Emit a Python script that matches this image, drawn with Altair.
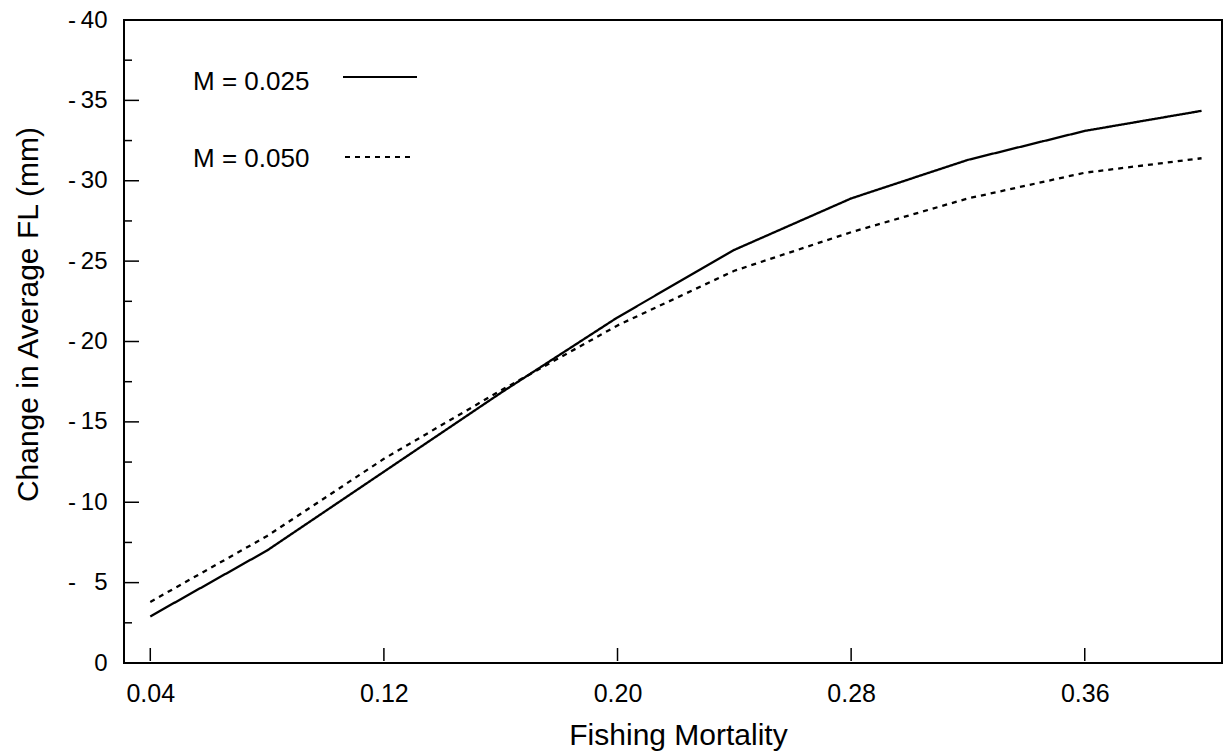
import altair as alt
import pandas as pd

# ---- data ----
fishing_mortality = [0.04, 0.08, 0.12, 0.16, 0.20, 0.24, 0.28, 0.32, 0.36, 0.40]
m_025 = [-2.9, -7.0, -11.9, -16.8, -21.5, -25.7, -28.9, -31.3, -33.1, -34.35]
m_050 = [-3.8, -7.9, -12.7, -16.95, -21.0, -24.4, -26.8, -28.9, -30.5, -31.4]
series_names = ["M = 0.025", "M = 0.050"]

x_tick_values = [0.04, 0.12, 0.20, 0.28, 0.36]
y_label_values = [-40, -35, -30, -25, -20, -15, -10, -5, 0]
y_major_ticks = [-35, -30, -25, -20, -15, -10, -5]
y_minor_ticks = [-37.5, -32.5, -27.5, -22.5, -17.5, -12.5, -7.5, -2.5]

rows = []
for name, vals in zip(series_names, [m_025, m_050]):
    for f, v in zip(fishing_mortality, vals):
        rows.append({"F": f, "change": v, "series": name})
df = pd.DataFrame(rows)

FONT = "Liberation Sans"
W, H = 1098, 643

x_scale = alt.Scale(domain=[0.031, 0.407], nice=False, zero=False)
y_scale = alt.Scale(domain=[-40, 0], reverse=True, nice=False, zero=False)

x_axis = alt.Axis(values=x_tick_values, format=".2f", title="Fishing Mortality",
                  ticks=False, domain=False, grid=False,
                  labelFont=FONT, labelFontSize=25, labelColor="black",
                  labelPadding=18,
                  titleFont=FONT, titleFontSize=30, titleFontWeight="normal",
                  titleColor="black", titleX=554, titleY=81,
                  titleBaseline="alphabetic", titleAlign="center")
y_axis = alt.Axis(values=y_label_values, title="Change in Average FL (mm)",
                  labelExpr="datum.value == 0 ? '0' : (datum.value > -10 ? '-\u2009\u2007' + format(-datum.value, 'd') : '-\u2009' + format(-datum.value, 'd'))",
                  ticks=False, domain=False, grid=False,
                  labelFont=FONT, labelFontSize=24, labelColor="black",
                  labelPadding=17,
                  titleFont=FONT, titleFontSize=30, titleFontWeight="normal",
                  titleColor="black", titleX=-87, titleY=294,
                  titleBaseline="alphabetic", titleAlign="center", titleAngle=-90)

lines = alt.Chart(df).mark_line(color="black", strokeWidth=2.3).encode(
    x=alt.X("F:Q", scale=x_scale, axis=x_axis),
    y=alt.Y("change:Q", scale=y_scale, axis=y_axis),
    strokeDash=alt.StrokeDash(
        "series:N",
        scale=alt.Scale(domain=series_names, range=[[1, 0], [5, 5]]),
        legend=None,
    ),
)

ymaj = alt.Chart(pd.DataFrame({"v": y_major_ticks})).mark_rule(color="black", strokeWidth=1.5).encode(
    y=alt.Y("v:Q", scale=y_scale, axis=y_axis),
    x=alt.value(0), x2=alt.value(15),
)
ymin = alt.Chart(pd.DataFrame({"v": y_minor_ticks})).mark_rule(color="black", strokeWidth=1.5).encode(
    y=alt.Y("v:Q", scale=y_scale, axis=y_axis),
    x=alt.value(0), x2=alt.value(8),
)
xt = alt.Chart(pd.DataFrame({"f": x_tick_values})).mark_rule(color="black", strokeWidth=1.5).encode(
    x=alt.X("f:Q", scale=x_scale, axis=x_axis),
    y=alt.value(H - 2), y2=alt.value(H - 15),
)

# legend (label on the left, line sample on the right, as in the reference)
leg_text_1 = alt.Chart(pd.DataFrame({"series": [series_names[0]]})).mark_text(
    font=FONT, fontSize=26, align="left", baseline="alphabetic", color="black"
).encode(text="series:N", x=alt.value(69), y=alt.value(70))
leg_text_2 = alt.Chart(pd.DataFrame({"series": [series_names[1]]})).mark_text(
    font=FONT, fontSize=26, align="left", baseline="alphabetic", color="black"
).encode(text="series:N", x=alt.value(69), y=alt.value(147))
leg_line_1 = alt.Chart(pd.DataFrame({"series": [series_names[0]]})).mark_rule(
    color="black", strokeWidth=2
).encode(x=alt.value(219), x2=alt.value(293), y=alt.value(57))
leg_line_2 = alt.Chart(pd.DataFrame({"series": [series_names[1]]})).mark_rule(
    color="black", strokeWidth=2, strokeDash=[5, 5]
).encode(x=alt.value(221), x2=alt.value(289), y=alt.value(137))

chart = alt.layer(lines, ymaj, ymin, xt, leg_text_1, leg_text_2, leg_line_1, leg_line_2).properties(
    width=W, height=H,
    padding={"left": 124, "top": 20, "right": 2, "bottom": 93},
    autosize=alt.AutoSizeParams(type="none"),
    background="white",
).configure_view(stroke="black", strokeWidth=2)

chart.save("out.html", embed_options={"renderer": "svg", "actions": False})
